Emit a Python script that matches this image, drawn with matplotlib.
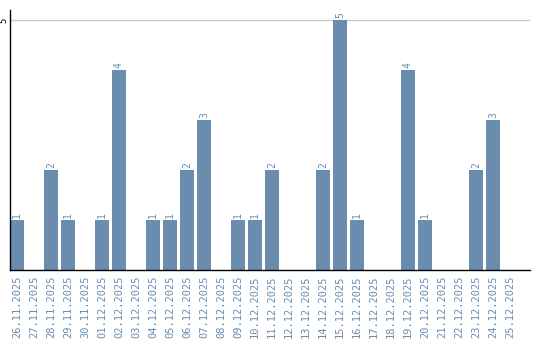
import matplotlib
matplotlib.use("Agg")
import matplotlib.pyplot as plt

dates = ["26.11.2025", "27.11.2025", "28.11.2025", "29.11.2025", "30.11.2025",
         "01.12.2025", "02.12.2025", "03.12.2025", "04.12.2025", "05.12.2025",
         "06.12.2025", "07.12.2025", "08.12.2025", "09.12.2025", "10.12.2025",
         "11.12.2025", "12.12.2025", "13.12.2025", "14.12.2025", "15.12.2025",
         "16.12.2025", "17.12.2025", "18.12.2025", "19.12.2025", "20.12.2025",
         "21.12.2025", "22.12.2025", "23.12.2025", "24.12.2025", "25.12.2025"]
counts = [1, 0, 2, 1, 0, 1, 4, 0, 1, 1, 2, 3, 0, 1, 1, 2, 0, 0, 2, 5,
          1, 0, 0, 4, 1, 0, 0, 2, 3, 0]

color = "#6a8caf"


def main():
    fig = plt.figure(figsize=(5.4, 3.4), dpi=100)
    ax = fig.add_axes([10 / 540, 70 / 340, 520 / 540, 260 / 340])

    x = list(range(len(dates)))
    ax.bar(x, counts, width=14 / 17, color=color, zorder=2)
    for xi, v in zip(x, counts):
        if v > 0:
            ax.text(xi, v + 0.05, str(v), rotation=90, ha="center", va="bottom",
                    color=color, fontsize=7, family="DejaVu Sans Mono")

    ax.set_xlim(-7 / 17, 30.18)
    ax.set_ylim(0, 5.2)
    ax.set_yticks([5])
    ax.set_yticklabels(["5"], rotation=90, va="center", fontsize=6.5,
                       family="DejaVu Sans Mono")
    ax.yaxis.grid(True, color="#cccccc", linewidth=1, zorder=0)
    ax.set_xticks(x)
    ax.set_xticklabels(dates, rotation=90, fontsize=7.5, color=color,
                       family="DejaVu Sans Mono")
    ax.tick_params(axis="x", length=0, pad=4)
    ax.tick_params(axis="y", length=0, pad=1)
    for s in ["top", "right"]:
        ax.spines[s].set_visible(False)
    ax.spines["left"].set_linewidth(1)
    ax.spines["bottom"].set_linewidth(1)

    fig.savefig("out.png", dpi=100)


if __name__ == "__main__":
    main()
